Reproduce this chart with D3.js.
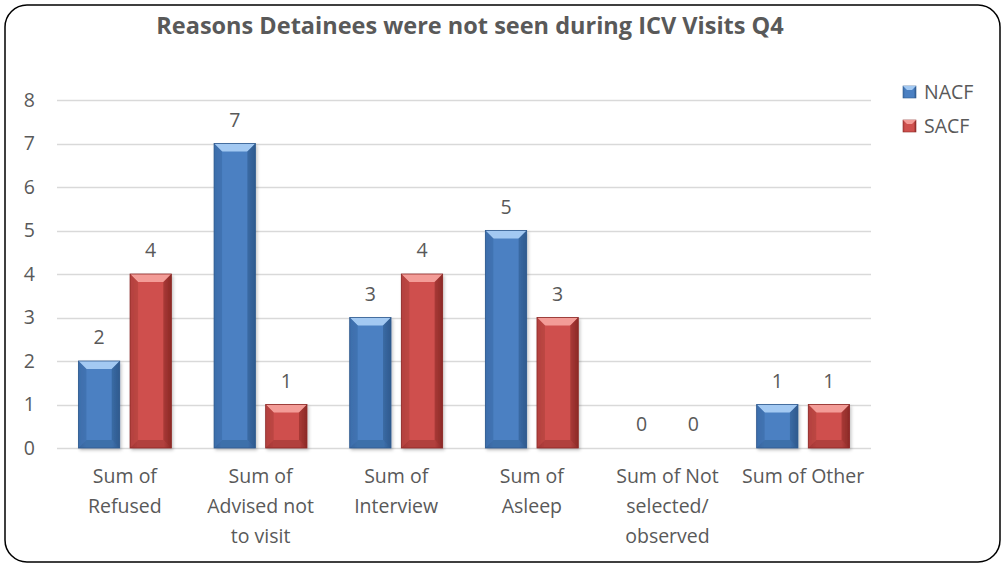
<!DOCTYPE html>
<html>
<head>
<meta charset="utf-8">
<script src="https://cdn.jsdelivr.net/npm/d3@7"></script>
<style>
  body { margin: 0; background: #fff; }
  text { font-family: "Open Sans", "DejaVu Sans", sans-serif; fill: #595959; }
</style>
</head>
<body>
<script>
// chart data
var categories = [
    ["Sum of", "Refused"],
    ["Sum of", "Advised not", "to visit"],
    ["Sum of", "Interview"],
    ["Sum of", "Asleep"],
    ["Sum of Not", "selected/", "observed"],
    ["Sum of Other"]
];
var seriesNames = ["NACF", "SACF"];
var nacf = [2, 7, 3, 5, 0, 1];
var sacf = [4, 1, 4, 3, 0, 1];
var yTicks = [0, 1, 2, 3, 4, 5, 6, 7, 8];

var W = 1002, H = 564;
var margins = {top: 100, left: 57, right: 131, bottom: 116};
var bodyW = W - margins.left - margins.right;
var bodyH = H - margins.top - margins.bottom;
var fs = "19.5px";

var palette = {
    NACF: {main: "#4b80c2", light: "#a3c9f2", dark: "#2f5a8e", side: "#3d6eab"},
    SACF: {main: "#cf504d", light: "#f39c97", dark: "#8c2a27", side: "#b3423f"}
};

var svg = d3.select("body").append("svg")
    .attr("width", W)
    .attr("height", H);

var defs = svg.append("defs");
seriesNames.forEach(function(s){
    var g = defs.append("linearGradient").attr("id", "grad-" + s)
        .attr("x1", 0).attr("x2", 1).attr("y1", 0).attr("y2", 0);
    g.append("stop").attr("offset", "0%").attr("stop-color", palette[s].side);
    g.append("stop").attr("offset", "18%").attr("stop-color", palette[s].main);
    g.append("stop").attr("offset", "82%").attr("stop-color", palette[s].main);
    g.append("stop").attr("offset", "100%").attr("stop-color", palette[s].dark);
});
var f = defs.append("filter").attr("id", "shadow")
    .attr("x", "-20%").attr("y", "-10%").attr("width", "150%").attr("height", "130%");
f.append("feDropShadow").attr("dx", 1.5).attr("dy", 2).attr("stdDeviation", 1.5)
    .attr("flood-color", "#000").attr("flood-opacity", 0.22);

// outer border
svg.append("rect")
    .attr("x", 5).attr("y", 5)
    .attr("width", 995).attr("height", 557)
    .attr("rx", 22).attr("ry", 22)
    .attr("fill", "#fff")
    .attr("stroke", "#000")
    .attr("stroke-width", 1.5);

svg.append("text")
    .attr("x", 470).attr("y", 34)
    .attr("text-anchor", "middle")
    .style("font-size", "23.5px")
    .style("font-weight", "bold")
    .text("Reasons Detainees were not seen during ICV Visits Q4");

var x0 = d3.scaleBand()
    .domain(d3.range(categories.length))
    .range([0, bodyW])
    .paddingInner(0.315)
    .paddingOuter(0.158);
var x1 = d3.scaleBand()
    .domain(seriesNames)
    .range([0, x0.bandwidth()])
    .paddingInner(0.2);
var y = d3.scaleLinear().domain([0, 8]).range([bodyH, 0]);

var body = svg.append("g")
    .attr("transform", "translate(" + margins.left + "," + margins.top + ")");

// gridlines
body.append("g").selectAll("line").data(yTicks).enter().append("line")
    .attr("x1", 0).attr("x2", bodyW)
    .attr("y1", function(d){ return Math.round(y(d)) + 0.5; })
    .attr("y2", function(d){ return Math.round(y(d)) + 0.5; })
    .attr("stroke", "#d9d9d9")
    .attr("stroke-width", 1.5);

// y axis labels
var yAxis = d3.axisLeft(y).tickValues(yTicks).tickSize(0).tickPadding(22);
var ya = body.append("g").call(yAxis);
ya.select(".domain").remove();
ya.selectAll("text").style("font-size", fs).attr("fill", "#595959");

var rows = [];
categories.forEach(function(c, i){
    rows.push({cat: i, s: "NACF", v: nacf[i]});
    rows.push({cat: i, s: "SACF", v: sacf[i]});
});

function bevelBar(g, d){
    var bx = x0(d.cat) + x1(d.s);
    var bw = x1.bandwidth();
    var by = y(d.v);
    var bh = y(0) - by;
    if (bh <= 0) return;
    var b = Math.min(8, bh / 2, bw / 4);
    var p = palette[d.s];
    var grp = g.append("g").attr("filter", "url(#shadow)");
    grp.append("rect")
        .attr("x", bx).attr("y", by).attr("width", bw).attr("height", bh)
        .attr("fill", "url(#grad-" + d.s + ")");
    // top bevel
    grp.append("polygon")
        .attr("points", [[bx, by], [bx + bw, by], [bx + bw - b, by + b], [bx + b, by + b]].join(" "))
        .attr("fill", p.light);
    // left bevel
    grp.append("polygon")
        .attr("points", [[bx, by], [bx + b, by + b], [bx + b, by + bh - b], [bx, by + bh]].join(" "))
        .attr("fill", p.side).attr("opacity", 0.7);
    // right bevel
    grp.append("polygon")
        .attr("points", [[bx + bw, by], [bx + bw - b, by + b], [bx + bw - b, by + bh - b], [bx + bw, by + bh]].join(" "))
        .attr("fill", p.dark).attr("opacity", 0.6);
    // bottom bevel
    grp.append("polygon")
        .attr("points", [[bx, by + bh], [bx + b, by + bh - b], [bx + bw - b, by + bh - b], [bx + bw, by + bh]].join(" "))
        .attr("fill", p.dark).attr("opacity", 0.45);
    grp.append("rect")
        .attr("x", bx).attr("y", by).attr("width", bw).attr("height", bh)
        .attr("fill", "none").attr("stroke", p.dark).attr("stroke-width", 0.8);
}

var barsG = body.append("g");
rows.forEach(function(d){ bevelBar(barsG, d); });

// value labels
body.append("g").selectAll("text").data(rows).enter().append("text")
    .attr("x", function(d){ return x0(d.cat) + x1(d.s) + x1.bandwidth() / 2; })
    .attr("y", function(d){ return y(d.v) - 17; })
    .attr("text-anchor", "middle")
    .style("font-size", fs)
    .text(function(d){ return d.v; });

// category labels
var catG = body.append("g").selectAll("text").data(categories).enter().append("text")
    .attr("text-anchor", "middle")
    .attr("transform", function(d, i){
        return "translate(" + (x0(i) + x0.bandwidth() / 2) + "," + (bodyH + 35) + ")";
    })
    .style("font-size", fs);
catG.selectAll("tspan").data(function(d){ return d; }).enter().append("tspan")
    .attr("x", 0)
    .attr("y", function(d, i){ return i * 30; })
    .text(function(d){ return d; });

// legend
var leg = svg.append("g").attr("transform", "translate(903,86)");
seriesNames.forEach(function(s, i){
    var lg = leg.append("g").attr("transform", "translate(0," + (i * 34) + ")");
    lg.append("rect").attr("width", 13).attr("height", 12)
        .attr("fill", "url(#grad-" + s + ")").attr("stroke", palette[s].dark).attr("stroke-width", 0.6);
    lg.append("polygon").attr("points", "0,0 13,0 9,4 4,4").attr("fill", palette[s].light);
    lg.append("text").attr("x", 21).attr("y", 13)
        .style("font-size", fs).text(s);
});
</script>
</body>
</html>
